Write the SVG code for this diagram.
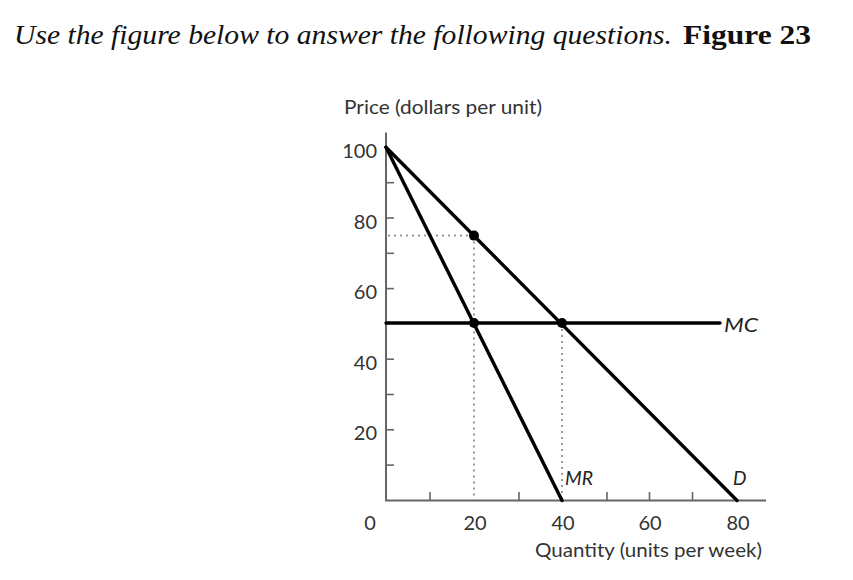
<svg xmlns="http://www.w3.org/2000/svg" width="853" height="580" viewBox="0 0 853 580">
  <style>
    .title { font-family: "Liberation Serif", "DejaVu Serif", serif; fill: #111; }
    .lbl { font-family: Lato, "Open Sans", "DejaVu Sans", sans-serif; fill: #333; font-size: 20px; }
    .curvelbl { font-family: Lato, "Open Sans", "DejaVu Sans", sans-serif; font-style: italic; fill: #222; font-size: 19px; }
    .axis { stroke: #666; stroke-width: 2; fill: none; }
    .tick { stroke: #666; stroke-width: 1.6; }
    .curve { stroke: #000; stroke-width: 3.4; fill: none; stroke-linecap: round; }
    .dotted { stroke: #999; stroke-width: 2; stroke-dasharray: 2 4; fill: none; }
    .pt { fill: #000; }
  </style>
  <rect width="853" height="580" fill="#fff"/>

  <g id="title">
    <text class="title" x="14" y="43.5" font-size="26.5" font-style="italic" textLength="658" lengthAdjust="spacingAndGlyphs">Use the figure below to answer the following questions.</text>
    <text class="title" x="683" y="43.5" font-size="27" font-weight="bold" textLength="128" lengthAdjust="spacingAndGlyphs">Figure 23</text>
  </g>

  <g id="axes">
    <line class="axis" x1="386" y1="132.5" x2="386" y2="500.5"/>
    <line class="axis" x1="385" y1="500.5" x2="766" y2="500.5"/>
    <g id="y-ticks">
      <line class="tick" x1="386" y1="182.7" x2="394" y2="182.7"/>
      <line class="tick" x1="386" y1="218" x2="394" y2="218"/>
      <line class="tick" x1="386" y1="253.3" x2="394" y2="253.3"/>
      <line class="tick" x1="386" y1="288.6" x2="394" y2="288.6"/>
      <line class="tick" x1="386" y1="359.2" x2="394" y2="359.2"/>
      <line class="tick" x1="386" y1="394.5" x2="394" y2="394.5"/>
      <line class="tick" x1="386" y1="429.8" x2="394" y2="429.8"/>
      <line class="tick" x1="386" y1="465.1" x2="394" y2="465.1"/>
    </g>
    <g id="x-ticks">
      <line class="tick" x1="430" y1="500.5" x2="430" y2="492"/>
      <line class="tick" x1="519" y1="500.5" x2="519" y2="492"/>
      <line class="tick" x1="607" y1="500.5" x2="607" y2="492"/>
      <line class="tick" x1="649.5" y1="500.5" x2="649.5" y2="492"/>
      <line class="tick" x1="692.5" y1="500.5" x2="692.5" y2="492"/>
    </g>
    <g id="y-labels">
      <text class="lbl" x="377" y="157.5" text-anchor="end">100</text>
      <text class="lbl" x="377" y="228.5" text-anchor="end">80</text>
      <text class="lbl" x="377" y="299.2" text-anchor="end">60</text>
      <text class="lbl" x="377" y="369.8" text-anchor="end">40</text>
      <text class="lbl" x="377" y="440.4" text-anchor="end">20</text>
    </g>
    <g id="x-labels">
      <text class="lbl" x="370" y="530" text-anchor="middle">0</text>
      <text class="lbl" x="475" y="530" text-anchor="middle">20</text>
      <text class="lbl" x="563" y="530" text-anchor="middle">40</text>
      <text class="lbl" x="650" y="530" text-anchor="middle">60</text>
      <text class="lbl" x="738" y="530" text-anchor="middle">80</text>
    </g>
    <text id="y-title" class="lbl" x="344" y="114" font-size="17" textLength="198" lengthAdjust="spacingAndGlyphs">Price (dollars per unit)</text>
    <text id="x-title" class="lbl" x="535" y="556.5" textLength="227" lengthAdjust="spacingAndGlyphs">Quantity (units per week)</text>
  </g>

  <g id="connectors">
    <line id="dot-h75" class="dotted" x1="388" y1="235.6" x2="474" y2="235.6"/>
    <line id="dot-v20" class="dotted" x1="474" y1="235.6" x2="474" y2="500"/>
    <line id="dot-v40" class="dotted" x1="562" y1="323" x2="562" y2="500"/>
  </g>

  <g id="curve-D">
    <line class="curve" x1="386" y1="147.3" x2="737" y2="500.5"/>
    <text class="curvelbl" x="733" y="485">D</text>
  </g>
  <g id="curve-MR">
    <line class="curve" x1="386" y1="147.3" x2="562" y2="500.5"/>
    <text class="curvelbl" x="565" y="485" textLength="28" lengthAdjust="spacingAndGlyphs">MR</text>
  </g>
  <g id="curve-MC">
    <line class="curve" x1="386" y1="323" x2="720" y2="323" stroke-linecap="butt"/>
    <text class="curvelbl" x="724" y="331.5" textLength="34" lengthAdjust="spacingAndGlyphs">MC</text>
  </g>

  <g id="points">
    <circle id="pt-20-75" class="pt" cx="474" cy="235.6" r="5"/>
    <circle id="pt-20-50" class="pt" cx="474" cy="323" r="5"/>
    <circle id="pt-40-50" class="pt" cx="562" cy="323" r="5"/>
  </g>
</svg>
